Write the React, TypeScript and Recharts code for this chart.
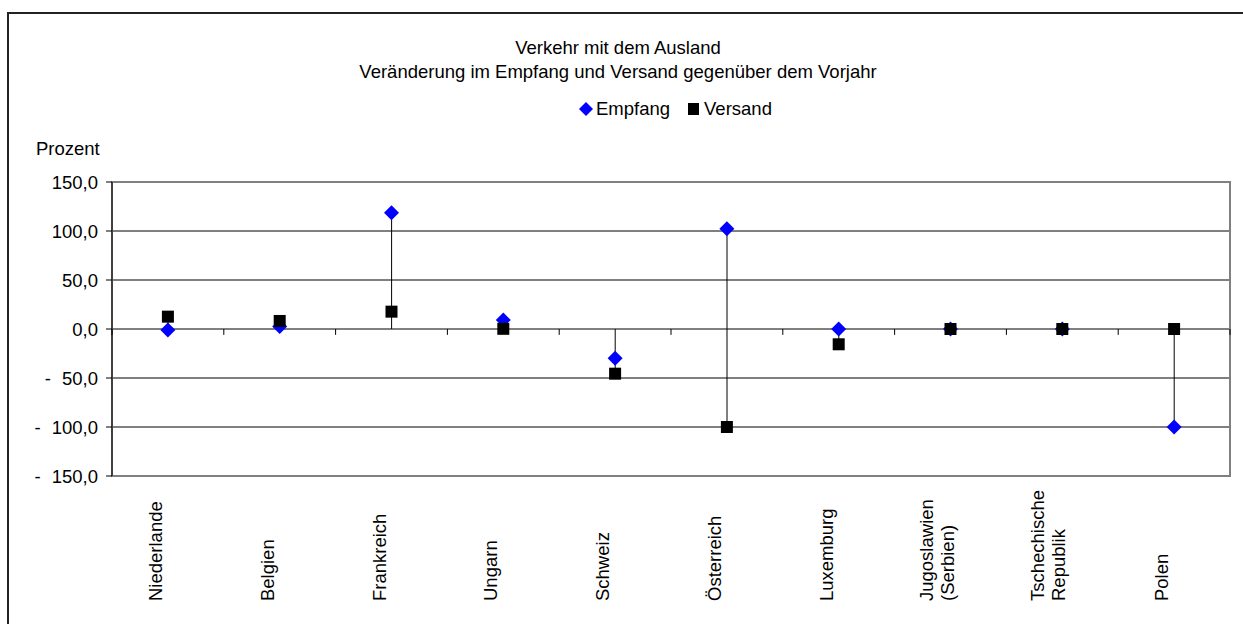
import React from 'react';
import {
  ComposedChart,
  Bar,
  Line,
  XAxis,
  YAxis,
  CartesianGrid,
  ReferenceLine,
  ReferenceArea,
} from 'recharts';

const categories = [
  'Niederlande',
  'Belgien',
  'Frankreich',
  'Ungarn',
  'Schweiz',
  'Österreich',
  'Luxemburg',
  'Jugoslawien\n(Serbien)',
  'Tschechische\nRepublik',
  'Polen',
];
const empfang = [-1, 2.5, 118.7, 9.2, -29.9, 102.3, 0, 0, 0, -100];
const versand = [12.6, 8.2, 17.7, 0.2, -45.6, -100, -15.6, 0, 0, 0];
const yTicks = [150, 100, 50, 0, -50, -100, -150];

const data = categories.map((name, i) => ({
  name,
  empfang: empfang[i],
  versand: versand[i],
}));

const FONT = "'Liberation Sans', Arial, sans-serif";
const FS = 18.5;

const fmt = (v: number) => Math.abs(v).toFixed(1).replace('.', ',');

const YTick = (props: any) => {
  const { x, y, payload } = props;
  const v = payload.value;
  return (
    <text x={x} y={y} dy="0.36em" textAnchor="end" fontFamily={FONT} fontSize={FS} fill="#000">
      {v < 0 ? (
        <>
          <tspan>-</tspan>
          <tspan dx={11}>{fmt(v)}</tspan>
        </>
      ) : (
        fmt(v)
      )}
    </text>
  );
};

const XTick = (props: any) => {
  const { x, y, payload } = props;
  const lines: string[] = String(payload.value).split('\n');
  const n = lines.length;
  const ay = y + 125;
  return (
    <g>
      {lines.map((l, i) => {
        const bx = x - 6 - 12 * (n - 1) + 21 * i;
        return (
          <text
            key={i}
            x={bx}
            y={ay}
            textAnchor="start"
            transform={`rotate(-90 ${bx} ${ay})`}
            fontFamily={FONT}
            fontSize={FS}
            fill="#000"
          >
            {l}
          </text>
        );
      })}
    </g>
  );
};

const diamond = (p: any) => {
  const { cx, cy, index } = p;
  if (cx == null || cy == null) return <g key={`e${index}`} />;
  const r = 7.5;
  return (
    <path
      key={`e${index}`}
      d={`M${cx},${cy - r}L${cx + r},${cy}L${cx},${cy + r}L${cx - r},${cy}Z`}
      fill="#0000FF"
    />
  );
};

const square = (p: any) => {
  const { cx, cy, index } = p;
  if (cx == null || cy == null) return <g key={`v${index}`} />;
  return <rect key={`v${index}`} x={cx - 6} y={cy - 6} width={12} height={12} fill="#000" />;
};

// high-low line through 0, Empfang and Versand
const HiLo = (props: any) => {
  const { x, y, width, height } = props;
  if (x == null || y == null) return <g />;
  const cx = x + width / 2;
  return <line x1={cx} x2={cx} y1={y} y2={y + height} stroke="#000" strokeWidth={1} />;
};

const hiLo = (d: any) => [Math.min(0, d.empfang, d.versand), Math.max(0, d.empfang, d.versand)];

export default function App() {
  return (
    <div
      style={{
        position: 'absolute',
        left: 0,
        top: 0,
        width: 1243,
        height: 624,
        overflow: 'hidden',
        background: '#fff',
        fontFamily: FONT,
        fontSize: FS,
        color: '#000',
      }}
    >
      <div
        style={{
          position: 'absolute',
          left: 7,
          top: 12,
          width: 1260,
          height: 640,
          border: '2px solid #222',
        }}
      />
      <div
        style={{
          position: 'absolute',
          left: 268,
          top: 36,
          width: 700,
          textAlign: 'center',
          lineHeight: '24px',
        }}
      >
        <div>Verkehr mit dem Ausland</div>
        <div>Veränderung im Empfang und Versand gegenüber dem Vorjahr</div>
      </div>

      <div
        style={{
          position: 'absolute',
          left: 579,
          top: 98,
          height: 22,
          display: 'flex',
          alignItems: 'center',
          whiteSpace: 'nowrap',
        }}
      >
        <svg width={14} height={14} style={{ marginRight: 3 }}>
          <path d="M7,0L14,7L7,14L0,7Z" fill="#0000FF" />
        </svg>
        <span>Empfang</span>
        <svg width={11} height={12} style={{ marginLeft: 18, marginRight: 5 }}>
          <rect x={0} y={0} width={11} height={12} fill="#000" />
        </svg>
        <span>Versand</span>
      </div>

      <div style={{ position: 'absolute', left: 36, top: 138, lineHeight: '22px' }}>Prozent</div>

      <div style={{ position: 'absolute', left: 0, top: 0 }}>
        <ComposedChart
          width={1243}
          height={624}
          data={data}
          margin={{ top: 182, right: 13, bottom: 0, left: 0 }}
        >
          <CartesianGrid vertical={false} stroke="#000" />
          <XAxis
            dataKey="name"
            height={148}
            axisLine={false}
            tickLine={false}
            tickSize={0}
            tickMargin={0}
            interval={0}
            tick={<XTick />}
          />
          <YAxis
            width={112}
            domain={[-150, 150]}
            ticks={yTicks}
            allowDataOverflow
            tickSize={6}
            tickMargin={8}
            tick={<YTick />}
            axisLine={{ stroke: '#000' }}
            tickLine={{ stroke: '#000' }}
          />
          <ReferenceArea y1={-150} y2={150} stroke="#808080" strokeWidth={2} fill="none" fillOpacity={0} />
          {categories.map((c) => (
            <ReferenceLine
              key={`t-${c}`}
              segment={[
                { x: c, y: 0 },
                { x: c, y: -6 },
              ]}
              position="start"
              stroke="#000"
              ifOverflow="visible"
            />
          ))}
          <ReferenceLine
            segment={[
              { x: categories[categories.length - 1], y: 0 },
              { x: categories[categories.length - 1], y: -6 },
            ]}
            position="end"
            stroke="#000"
            ifOverflow="visible"
          />
          <Bar dataKey={hiLo} barSize={2} shape={<HiLo />} isAnimationActive={false} />
          <Line
            dataKey="empfang"
            stroke="none"
            dot={diamond}
            activeDot={false}
            isAnimationActive={false}
          />
          <Line
            dataKey="versand"
            stroke="none"
            dot={square}
            activeDot={false}
            isAnimationActive={false}
          />
        </ComposedChart>
      </div>
    </div>
  );
}
